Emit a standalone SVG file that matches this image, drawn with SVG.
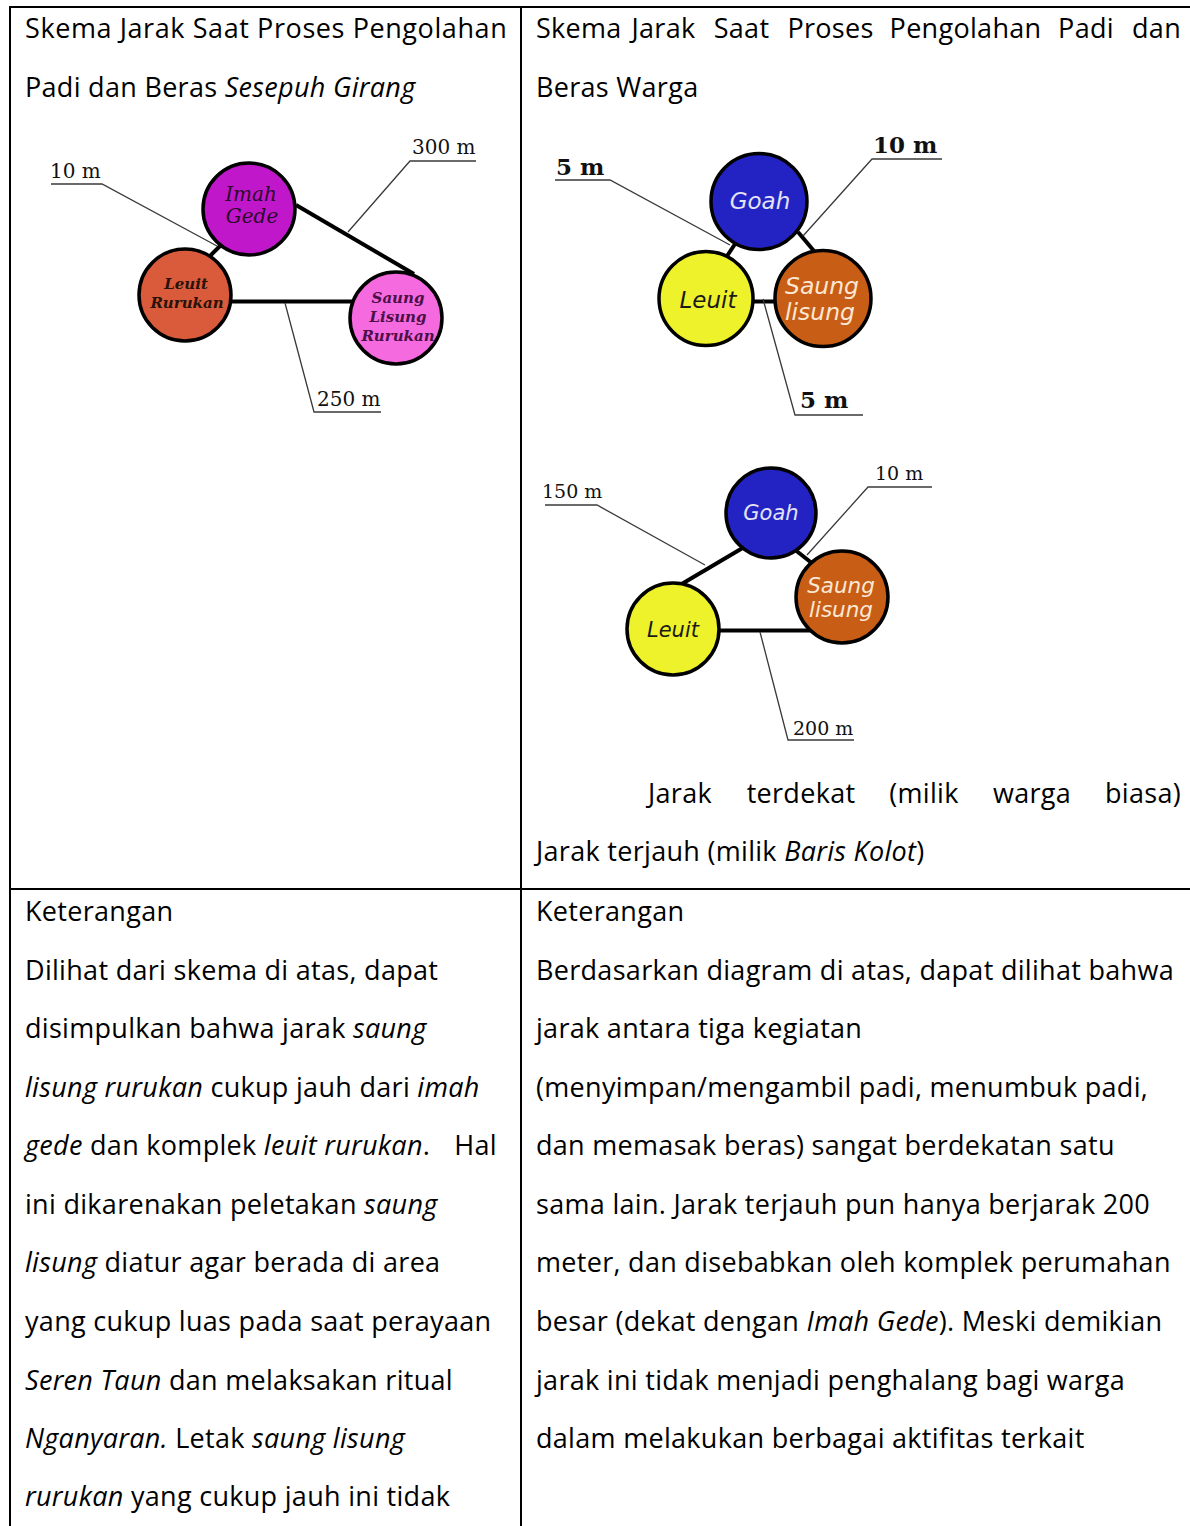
<svg xmlns="http://www.w3.org/2000/svg" width="1190" height="1526" viewBox="0 0 1190 1526">
<style>
.t{font-family:"Open Sans","Noto Sans",sans-serif;font-size:27px;letter-spacing:0.3px;fill:#000}
.i{font-style:italic}
.grid{stroke:#000;stroke-width:2;fill:none}
.con{stroke:#000;stroke-width:4;fill:none}
.lead{stroke:#3a3a3a;stroke-width:1.3;fill:none}
.node{stroke:#000;stroke-width:3.5}
.d1{font-family:"DejaVu Serif",serif;font-size:20px;fill:#111}
.d2{font-family:"DejaVu Serif",serif;font-size:23px;font-weight:bold;fill:#111}
.d3{font-family:"DejaVu Serif",serif;font-size:19px;fill:#111}
.l1{font-family:"DejaVu Serif",serif;font-style:italic;text-anchor:middle}
.l2{font-family:"DejaVu Sans",sans-serif;font-style:italic;text-anchor:middle}
</style>
<rect width="1190" height="1526" fill="#fff"/>
<g id="table">
<line class="grid" x1="9" y1="7" x2="1190" y2="7"/>
<line class="grid" x1="10" y1="6" x2="10" y2="1526"/>
<line class="grid" x1="521" y1="6" x2="521" y2="1526"/>
<line class="grid" x1="9" y1="889" x2="1190" y2="889"/>
</g>
<g id="text-left" class="t">
<text x="25" y="38" textLength="482" lengthAdjust="spacing">Skema Jarak Saat Proses Pengolahan</text>
<text x="25" y="97">Padi dan Beras <tspan class="i">Sesepuh Girang</tspan></text>
<text x="25" y="921">Keterangan</text>
<text x="25" y="980">Dilihat dari skema di atas, dapat</text>
<text x="25" y="1038">disimpulkan bahwa jarak <tspan class="i">saung</tspan></text>
<text x="25" y="1097"><tspan class="i">lisung rurukan</tspan> cukup jauh dari <tspan class="i">imah</tspan></text>
<text x="25" y="1155"><tspan class="i">gede</tspan> dan komplek <tspan class="i">leuit rurukan</tspan>.</text>
<text x="497" y="1155" text-anchor="end">Hal</text>
<text x="25" y="1214">ini dikarenakan peletakan <tspan class="i">saung</tspan></text>
<text x="25" y="1272"><tspan class="i">lisung</tspan> diatur agar berada di area</text>
<text x="25" y="1331">yang cukup luas pada saat perayaan</text>
<text x="25" y="1390"><tspan class="i">Seren Taun</tspan> dan melaksakan ritual</text>
<text x="25" y="1448"><tspan class="i">Nganyaran.</tspan> Letak <tspan class="i">saung lisung</tspan></text>
<text x="25" y="1506"><tspan class="i">rurukan</tspan> yang cukup jauh ini tidak</text>
</g>
<g id="text-right" class="t">
<text x="536" y="38">Skema</text>
<text x="663.5" y="38" text-anchor="middle">Jarak</text>
<text x="741.5" y="38" text-anchor="middle">Saat</text>
<text x="830.5" y="38" text-anchor="middle">Proses</text>
<text x="965.5" y="38" text-anchor="middle">Pengolahan</text>
<text x="1086" y="38" text-anchor="middle">Padi</text>
<text x="1181" y="38" text-anchor="end">dan</text>
<text x="536" y="97">Beras Warga</text>
<text x="648" y="803">Jarak</text>
<text x="801" y="803" text-anchor="middle">terdekat</text>
<text x="924" y="803" text-anchor="middle">(milik</text>
<text x="1032" y="803" text-anchor="middle">warga</text>
<text x="1181" y="803" text-anchor="end">biasa)</text>
<text x="536" y="861">Jarak terjauh (milik <tspan class="i">Baris Kolot</tspan>)</text>
<text x="536" y="921">Keterangan</text>
<text x="536" y="980">Berdasarkan diagram di atas, dapat dilihat bahwa</text>
<text x="536" y="1038">jarak antara tiga kegiatan</text>
<text x="536" y="1097">(menyimpan/mengambil padi, menumbuk padi,</text>
<text x="536" y="1155">dan memasak beras) sangat berdekatan satu</text>
<text x="536" y="1214">sama lain. Jarak terjauh pun hanya berjarak 200</text>
<text x="536" y="1272">meter, dan disebabkan oleh komplek perumahan</text>
<text x="536" y="1331">besar (dekat dengan <tspan class="i">Imah Gede</tspan>). Meski demikian</text>
<text x="536" y="1390">jarak ini tidak menjadi penghalang bagi warga</text>
<text x="536" y="1448">dalam melakukan berbagai aktifitas terkait</text>
</g>
<g id="connectors">
<line class="con" x1="228" y1="238" x2="206" y2="260"/>
<line class="con" x1="296" y1="205" x2="414" y2="274"/>
<line class="con" x1="230" y1="301.5" x2="352" y2="301.5"/>
<line class="con" x1="737" y1="241" x2="727" y2="256"/>
<line class="con" x1="798" y1="232" x2="814" y2="251"/>
<line class="con" x1="752" y1="301.5" x2="778" y2="301.5"/>
<line class="con" x1="746" y1="546" x2="680" y2="585"/>
<line class="con" x1="794" y1="549" x2="813" y2="564"/>
<line class="con" x1="716" y1="630.5" x2="814" y2="630.5"/>
</g>
<g id="node-imah-gede">
<circle class="node" cx="249" cy="209" r="46" fill="#C117CB"/>
<text class="l1" x="251" y="201" font-size="20" fill="#2a0a2a">Imah</text>
<text class="l1" x="252" y="223" font-size="20" fill="#2a0a2a">Gede</text>
</g>
<g id="node-leuit-rurukan">
<circle class="node" cx="185" cy="295" r="46" fill="#D95B3B"/>
<text class="l1" x="186" y="289" font-size="15" font-weight="bold" fill="#2a1208">Leuit</text>
<text class="l1" x="187" y="308" font-size="15" font-weight="bold" fill="#2a1208">Rurukan</text>
</g>
<g id="node-saung-lisung-rurukan">
<circle class="node" cx="396" cy="318" r="46" fill="#F66AE0"/>
<text class="l1" x="398" y="303" font-size="15" font-weight="bold" fill="#4a1048">Saung</text>
<text class="l1" x="398" y="322" font-size="15" font-weight="bold" fill="#4a1048">Lisung</text>
<text class="l1" x="398" y="341" font-size="15" font-weight="bold" fill="#4a1048">Rurukan</text>
</g>
<g id="node-goah-1">
<circle class="node" cx="759" cy="201.5" r="48" fill="#2323C4"/>
<text class="l2" x="760" y="209" font-size="23" fill="#e4e4f4">Goah</text>
</g>
<g id="node-leuit-1">
<circle class="node" cx="706" cy="298.5" r="47" fill="#EEF22B"/>
<text class="l2" x="708" y="308" font-size="23" fill="#1a1a1a">Leuit</text>
</g>
<g id="node-saung-1">
<circle class="node" cx="823" cy="298.5" r="48" fill="#C85D16"/>
<text class="l2" x="822" y="294" font-size="23.5" fill="#fbe8d4">Saung</text>
<text class="l2" x="820" y="320" font-size="23.5" fill="#fbe8d4">lisung</text>
</g>
<g id="node-goah-2">
<circle class="node" cx="771" cy="513" r="45" fill="#2323C4"/>
<text class="l2" x="771" y="520" font-size="21" fill="#e4e4f4">Goah</text>
</g>
<g id="node-leuit-2">
<circle class="node" cx="673" cy="629" r="46" fill="#EEF22B"/>
<text class="l2" x="673" y="637" font-size="21" fill="#1a1a1a">Leuit</text>
</g>
<g id="node-saung-2">
<circle class="node" cx="842" cy="597" r="46" fill="#C85D16"/>
<text class="l2" x="841" y="593" font-size="21.5" fill="#fbe8d4">Saung</text>
<text class="l2" x="841" y="617" font-size="21.5" fill="#fbe8d4">lisung</text>
</g>
<g id="leaders">
<polyline class="lead" points="51,184 102,184 217,246"/>
<polyline class="lead" points="476,161 410,161 348,232"/>
<polyline class="lead" points="381,412 314,412 285,303"/>
<polyline class="lead" points="555,180 610,180 730,245"/>
<polyline class="lead" points="942,159 872,159 803,236"/>
<polyline class="lead" points="863,415 795,415 763,299"/>
<polyline class="lead" points="545,505 597,505 705,565"/>
<polyline class="lead" points="932,487 868,487 807,555"/>
<polyline class="lead" points="854,740 788,740 760,632"/>
<text class="d1" x="50" y="178">10 m</text>
<text class="d1" x="412" y="154">300 m</text>
<text class="d1" x="317" y="406">250 m</text>
<text class="d2" x="556" y="175">5 m</text>
<text class="d2" x="873" y="153">10 m</text>
<text class="d2" x="800" y="408">5 m</text>
<text class="d3" x="542" y="498">150 m</text>
<text class="d3" x="875" y="480">10 m</text>
<text class="d3" x="793" y="735">200 m</text>
</g>
</svg>
